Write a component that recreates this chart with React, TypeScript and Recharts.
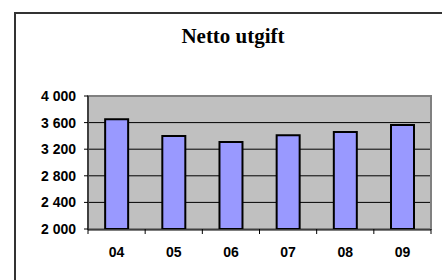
import { BarChart, Bar, XAxis, YAxis, CartesianGrid, ReferenceArea } from "recharts";

const years = ["04", "05", "06", "07", "08", "09"];
const nettoUtgift = [3650, 3400, 3310, 3410, 3460, 3565];
const yTicks = [2000, 2400, 2800, 3200, 3600, 4000];
const slotTicks = [0, 1, 2, 3, 4, 5, 6];

const data = years.map((year, i) => ({ year, value: nettoUtgift[i], slot: i + 0.5 }));

const fmt = (v: number) => {
  const s = String(v);
  return s.length > 3 ? `${s.slice(0, -3)} ${s.slice(-3)}` : s;
};

const LABEL_FONT = "Arial, 'Liberation Sans', sans-serif";

export default function App() {
  return (
    <div style={{ position: "absolute", left: 0, top: 0, width: 442, height: 280, overflow: "hidden", background: "#fff" }}>
      <div
        style={{
          position: "absolute",
          left: 14,
          top: 12,
          width: 460,
          height: 300,
          border: "2px solid #333",
          boxSizing: "border-box",
        }}
      />
      <div
        style={{
          position: "absolute",
          left: 15,
          width: 436,
          top: 24,
          textAlign: "center",
          fontFamily: "'Times New Roman', 'Liberation Serif', serif",
          fontWeight: "bold",
          fontSize: 21,
          color: "#000",
        }}
      >
        Netto utgift
      </div>
      <div style={{ position: "absolute", left: 0, top: 0 }}>
        <BarChart
          width={442}
          height={280}
          data={data}
          margin={{ top: 96, right: 11, bottom: 0, left: 0 }}
          barCategoryGap="30%"
        >
          <CartesianGrid xAxisId="years" vertical={false} fill="#c0c0c0" stroke="#000" strokeWidth={1} />
          <ReferenceArea xAxisId="years" y1={2000} y2={4000} fill="none" stroke="#808080" strokeWidth={2} ifOverflow="visible" />
          <XAxis
            xAxisId="slots"
            type="number"
            dataKey="slot"
            domain={[0, 6]}
            ticks={slotTicks}
            height={1}
            tickSize={5}
            tickFormatter={(v: number) => (v >= 0 ? " " : "")}
            axisLine={false}
            tickLine={{ stroke: "#000" }}
            tick={{ fontSize: 1 }}
            interval={0}
            allowDataOverflow
          />
          <XAxis
            xAxisId="years"
            dataKey="year"
            height={50}
            tickLine={false}
            tickSize={0}
            tickMargin={17}
            axisLine={{ stroke: "#000", strokeWidth: 1 }}
            tick={{ fill: "#000", fontSize: 14, fontWeight: "bold", fontFamily: LABEL_FONT }}
          />
          <YAxis
            width={88}
            domain={[2000, 4000]}
            ticks={yTicks}
            tickFormatter={fmt}
            tickSize={4}
            tickMargin={8}
            axisLine={{ stroke: "#000" }}
            tickLine={{ stroke: "#000" }}
            tick={{ fill: "#000", fontSize: 14, fontWeight: "bold", fontFamily: LABEL_FONT }}
            allowDataOverflow
          />
          <Bar xAxisId="years" dataKey="value" fill="#9999ff" stroke="#000" strokeWidth={2} isAnimationActive={false} />
        </BarChart>
      </div>
    </div>
  );
}
